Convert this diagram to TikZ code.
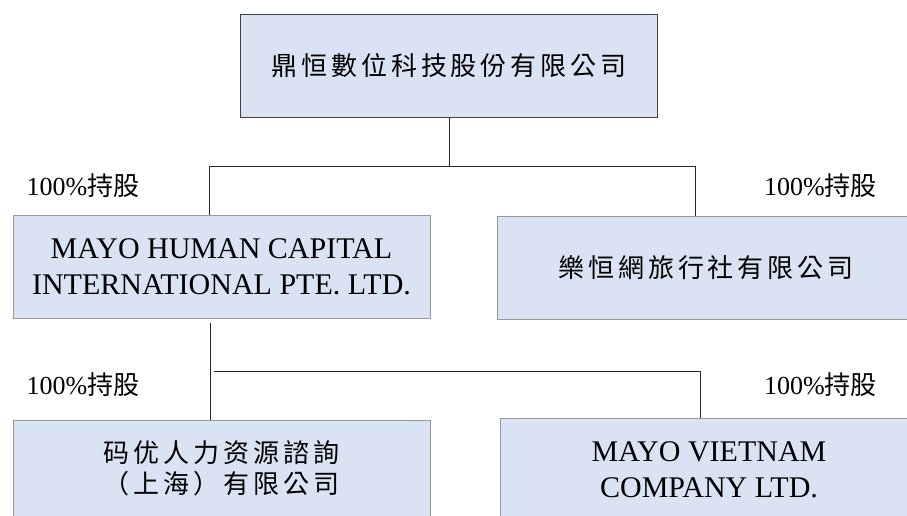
\documentclass[tikz,border=0pt]{standalone}
\usepackage{fontspec}
\usepackage{xcolor}
\usepackage{tikz}
\usetikzlibrary{positioning, calc}
\setmainfont{Liberation Serif}
\newfontfamily\cjk{Noto Sans CJK TC}
\newfontfamily\cjkwide{Noto Sans CJK TC}[LetterSpace=15]
\definecolor{boxfill}{HTML}{DAE3F3}

\begin{document}
\begin{tikzpicture}[
    x=0.75pt, y=-0.75pt,
    box/.style={rectangle, draw=black!40, fill=boxfill, line width=0.75pt,
        minimum width=417*0.75pt, minimum height=103*0.75pt, align=center, inner sep=0pt},
    latin/.style={font=\fontsize{22.5}{27}\selectfont},
    hanzi/.style={font=\fontsize{19.5}{23.25}\selectfont\cjkwide},
    pct/.style={font=\fontsize{19.5}{23}\selectfont, inner sep=0pt},
    link/.style={draw=black!85, line width=0.75pt}
]
    \useasboundingbox (0,0) rectangle (907,515);
    \clip (0,0) rectangle (907,515);

    % Parent company
    \node[box, hanzi, draw=black!75] (dinghen) at (449,65.5) {鼎恒數位科技股份有限公司};

    % First level
    \node[box, latin] (mayohc) at (221.5,266.5) {MAYO HUMAN CAPITAL\\INTERNATIONAL PTE. LTD.};
    \node[box, hanzi] (lehen) at (706,267.5) {樂恒網旅行社有限公司};
    \node[pct] (pctA) at (83,186) {100\%{\cjk 持股}};
    \node[pct] (pctB) at (820.5,186) {100\%{\cjk 持股}};

    % Second level
    \node[box, hanzi, minimum height=97*0.75pt] (mayosh) at (221.5,468.5) {码优人力资源諮詢\\（上海）有限公司};
    \node[box, latin] (mayovn) at (709,469.5) {MAYO VIETNAM\\COMPANY LTD.};
    \node[pct] (pctC) at (83,385) {100\%{\cjk 持股}};
    \node[pct] (pctD) at (820.5,385) {100\%{\cjk 持股}};

    % Connectors, first level
    \coordinate (busL) at (209,166);
    \coordinate (busR) at (695,166);
    \draw[link] (dinghen.south) -- (dinghen.south |- busL);
    \draw[link] (busL) -- (busR);
    \draw[link] (busL) -- (busL |- mayohc.north);
    \draw[link] (busR) -- (busR |- lehen.north);

    % Connectors, second level
    \coordinate (dropL) at (210,323);
    \coordinate (busL2) at (214,371);
    \coordinate (busR2) at (700,371);
    \draw[link] (dropL) -- (dropL |- mayosh.north);
    \draw[link] (busL2) -- (busR2) -- (busR2 |- mayovn.north);
\end{tikzpicture}
\end{document}
